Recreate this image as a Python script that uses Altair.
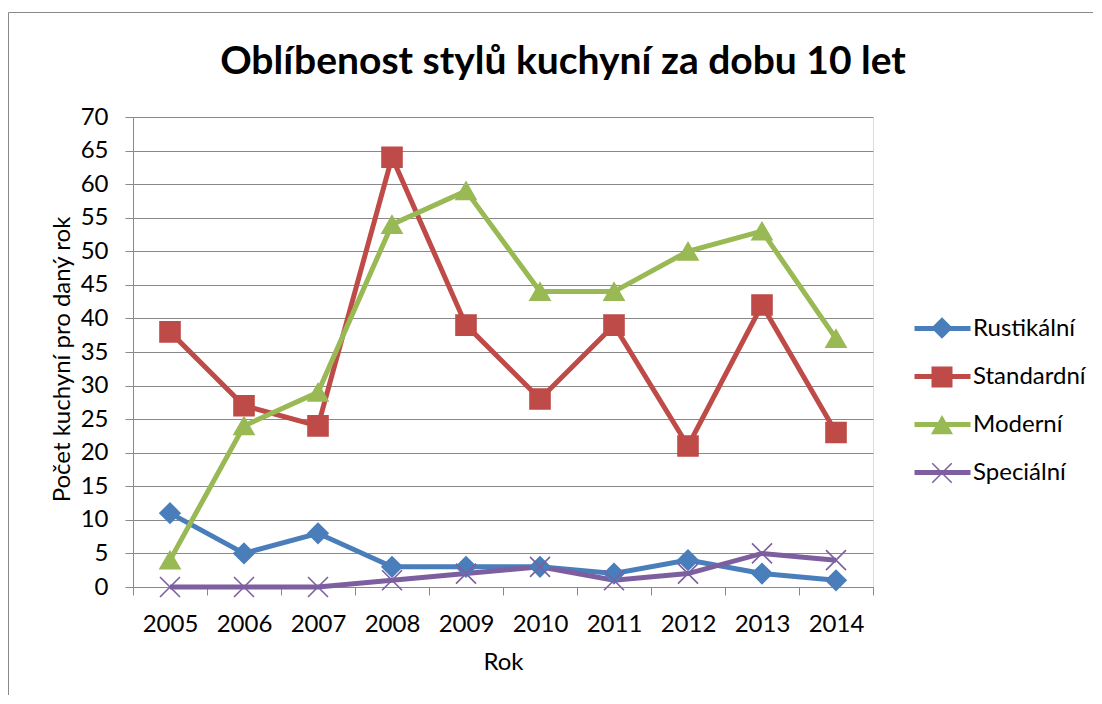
import altair as alt
import pandas as pd

years = [2005, 2006, 2007, 2008, 2009, 2010, 2011, 2012, 2013, 2014]
series = ["Rustikální", "Standardní", "Moderní", "Speciální"]
rustikalni = [11, 5, 8, 3, 3, 3, 2, 4, 2, 1]
standardni = [38, 27, 24, 64, 39, 28, 39, 21, 42, 23]
moderni = [4, 24, 29, 54, 59, 44, 44, 50, 53, 37]
specialni = [0, 0, 0, 1, 2, 3, 1, 2, 5, 4]
y_ticks = list(range(0, 71, 5))
colors = ["#4A7EBB", "#BE4B48", "#98B954", "#7D5FA0"]

values = [rustikalni, standardni, moderni, specialni]
rows = []
for s, vals in zip(series, values):
    for yr, v in zip(years, vals):
        rows.append({"year": yr, "series": s, "marker": s, "value": v})
df = pd.DataFrame(rows)

FONT = "Lato"
FS = 24
GRID = "#898989"
XPATH = "M-1,-1L1,1M-1,1L1,-1"
shapes = ["diamond", "square", "triangle-up", XPATH]

LEG_X, LEG_Y = 797, 199

x_enc = alt.X(
    "year:O",
    scale=alt.Scale(type="band", paddingInner=0, paddingOuter=0),
    bandPosition=0.5,
    axis=alt.Axis(
        title="Rok",
        titleFont=FONT, titleFontSize=FS, titleFontWeight="normal", titleColor="black",
        titleBaseline="alphabetic", titleX=370, titleY=82,
        labelFont=FONT, labelFontSize=FS, labelColor="black", labelAngle=0,
        labelPadding=17, tickBand="extent", tickSize=8, tickColor=GRID,
        domainColor=GRID, grid=False,
    ),
)
y_enc = alt.Y(
    "value:Q",
    scale=alt.Scale(domain=[0, 70], nice=False),
    axis=alt.Axis(
        values=y_ticks,
        title="Počet kuchyní pro daný rok",
        titleFont=FONT, titleFontSize=FS, titleFontWeight="normal", titleColor="black",
        titleBaseline="alphabetic", titleX=-64, titleY=242,
        labelFont=FONT, labelFontSize=FS, labelColor="black", labelPadding=17,
        tickSize=8, tickColor=GRID, domainColor=GRID,
        grid=True, gridColor=GRID, gridWidth=1,
    ),
)

line_legend = alt.Legend(
    title=None, orient="none", legendX=LEG_X, legendY=LEG_Y,
    labelFont=FONT, labelFontSize=FS, labelColor="black",
    symbolType="M-2.8,0L2.8,0", symbolSize=400, symbolStrokeWidth=5,
    labelOffset=18, rowPadding=23, padding=0, zindex=1,
)
marker_legend = alt.Legend(
    title=None, orient="none", legendX=LEG_X, legendY=LEG_Y,
    labelFont=FONT, labelFontSize=FS, labelOpacity=0,
    symbolSize=380, symbolStrokeWidth=1.5, symbolOpacity=1,
    labelOffset=18, rowPadding=23, padding=0, zindex=2,
)

base = alt.Chart(df)
lines = base.mark_line(strokeWidth=5).encode(
    x=x_enc, y=y_enc,
    color=alt.Color("series:N", sort=series, scale=alt.Scale(range=colors), legend=line_legend),
    detail="series:N",
)
points = base.mark_point(filled=True, size=400, opacity=1, strokeWidth=1.6).encode(
    x=x_enc, y=y_enc,
    fill=alt.Fill("marker:N", scale=alt.Scale(domain=series, range=colors), legend=marker_legend),
    stroke=alt.Stroke("marker:N", scale=alt.Scale(domain=series, range=colors), legend=marker_legend),
    shape=alt.Shape("marker:N", scale=alt.Scale(domain=series, range=shapes), legend=marker_legend),
)

one = pd.DataFrame({"a": [0]})
border_left = alt.Chart(one).mark_rule(color=GRID, strokeWidth=1).encode(
    x=alt.value(-124.5), y=alt.value(-104.5), y2=alt.value(700)
)
border_top = alt.Chart(one).mark_rule(color=GRID, strokeWidth=1).encode(
    x=alt.value(-124.5), x2=alt.value(1100), y=alt.value(-104.5)
)

chart = alt.layer(border_left, border_top, lines, points).properties(
    width=740, height=470,
    autosize=alt.AutoSizeParams(type="none"),
    padding={"left": 125, "top": 109, "right": 220, "bottom": 108},
    title=alt.TitleParams(
        "Oblíbenost stylů kuchyní za dobu 10 let",
        font=FONT, fontSize=39, fontWeight="bold", color="black",
        anchor="middle", frame="group", dx=60, dy=92, offset=22,
    ),
).configure_view(stroke=None).configure(background="white")

chart.save("out.html", embed_options={"renderer": "svg", "actions": False})
